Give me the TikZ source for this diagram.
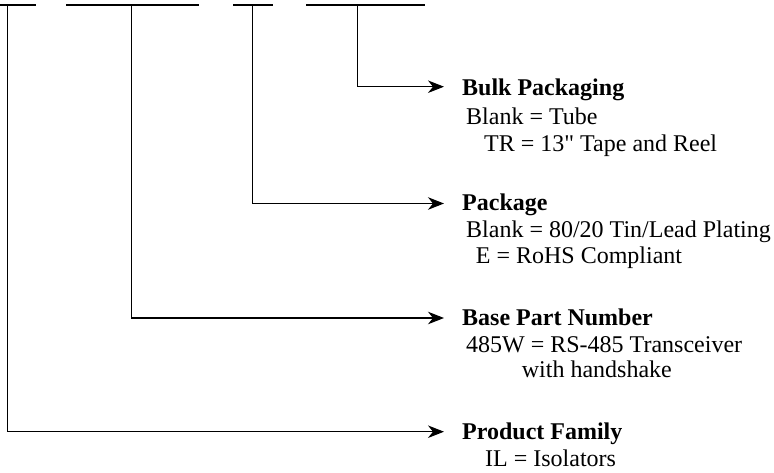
\documentclass[tikz,border=0pt]{standalone}
\usepackage{fontspec}
\setmainfont{Liberation Serif}[Ligatures=TeXOff]
\usetikzlibrary{arrows.meta}
\tikzset{
  bar/.style={line width=1.1pt},
  leader/.style={line width=1.1pt, -{Stealth[length=16pt, width=12.5pt, inset=5pt]}},
  title/.style={anchor=base west, inner sep=0pt, font=\fontsize{24}{28}\selectfont\bfseries},
  entry/.style={anchor=base west, inner sep=0pt, font=\fontsize{24}{28}\selectfont}
}
\begin{document}
\begin{tikzpicture}[x=1pt, y=-1pt]
  \useasboundingbox (0,0) rectangle (774,472);

  % part number fields
  \foreach \i/\a/\b in {1/0/36, 2/66/199, 3/233/273, 4/306/425} {
    \coordinate (bl\i) at (\a,5);
    \coordinate (br\i) at (\b,5);
    \draw[bar] (bl\i) -- (br\i);
  }

  % leaders from each field to its description
  \foreach \i/\x/\y in {1/7.5/431.7, 2/131.7/318, 3/252.3/203.5, 4/357.3/86.7} {
    \coordinate (top\i) at (\x,5);
    \coordinate (tip\i) at (444,\y);
    \draw[leader] (top\i) |- (tip\i);
  }

  \node[title] (bulk) at (462,95) {Bulk Packaging};
  \node[entry] (bulkA) at (466,124) {Blank = Tube};
  \node[entry] (bulkB) at (484,151) {TR = 13" Tape and Reel};

  \node[title] (pkg) at (462,210.5) {Package};
  \node[entry] (pkgA) at (466,237) {Blank = 80/20 Tin/Lead Plating};
  \node[entry] (pkgB) at (475.7,263) {E = RoHS Compliant};

  \node[title] (base) at (462,325) {Base Part Number};
  \node[entry] (baseA) at (466,352) {485W = RS-485 Transceiver};
  \node[entry] (baseB) at (521.7,377) {with handshake};

  \node[title] (family) at (462,439) {Product Family};
  \node[entry] (familyA) at (485,466.5) {IL = Isolators};
\end{tikzpicture}
\end{document}
